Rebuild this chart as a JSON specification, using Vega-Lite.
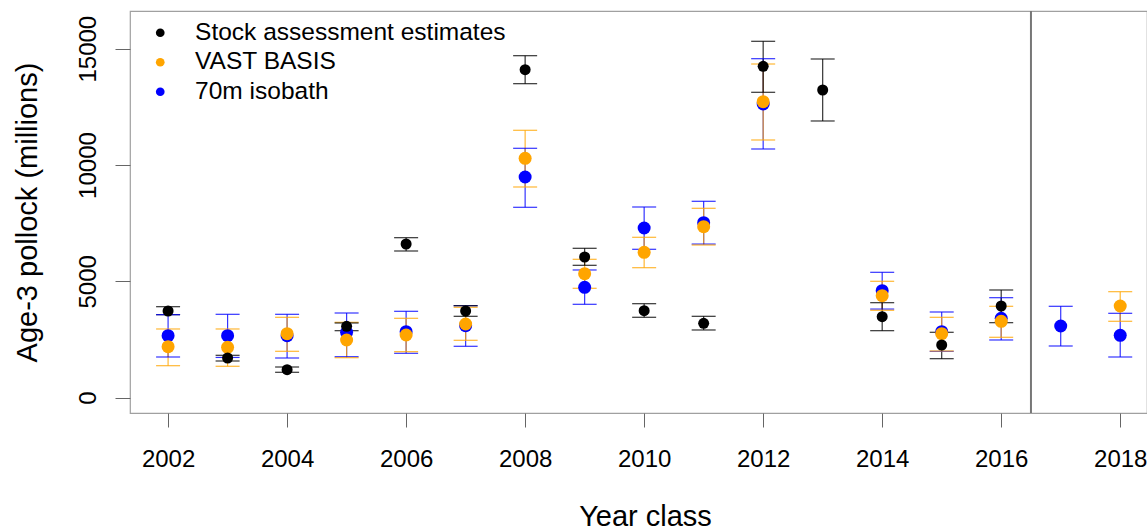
{
  "$schema": "https://vega.github.io/schema/vega-lite/v6.json",
  "width": 1017,
  "height": 402,
  "autosize": {"type": "none"},
  "padding": {"left": 130, "top": 11, "right": 0, "bottom": 116},
  "background": "white",
  "config": {
    "font": "Liberation Sans",
    "view": {"stroke": "#a0a0a0", "strokeWidth": 1.2},
    "axis": {"grid": false, "domain": false, "tickColor": "#666666", "tickWidth": 1, "labelColor": "#000000", "titleColor": "#000000", "labelFont": "Liberation Sans", "titleFont": "Liberation Sans", "titleFontWeight": "normal", "labelOverlap": false, "labelFlush": false, "labelBound": false}
  },
  "datasets": {
    "divider": [{"year": 2016.5}],
    "recruits": [
      {"year": 2002, "series": "70m isobath", "est": 2665, "lo": 1749, "hi": 3568},
      {"year": 2003, "series": "70m isobath", "est": 2665, "lo": 1730, "hi": 3584},
      {"year": 2004, "series": "70m isobath", "est": 2665, "lo": 1706, "hi": 3584},
      {"year": 2005, "series": "70m isobath", "est": 2811, "lo": 1762, "hi": 3640},
      {"year": 2006, "series": "70m isobath", "est": 2837, "lo": 1908, "hi": 3713},
      {"year": 2007, "series": "70m isobath", "est": 3095, "lo": 2209, "hi": 3954},
      {"year": 2008, "series": "70m isobath", "est": 9486, "lo": 8183, "hi": 10719},
      {"year": 2009, "series": "70m isobath", "est": 4745, "lo": 4014, "hi": 5489},
      {"year": 2010, "series": "70m isobath", "est": 7294, "lo": 6378, "hi": 8196},
      {"year": 2011, "series": "70m isobath", "est": 7522, "lo": 6603, "hi": 8441},
      {"year": 2012, "series": "70m isobath", "est": 12623, "lo": 10689, "hi": 14570},
      {"year": 2014, "series": "70m isobath", "est": 4599, "lo": 3809, "hi": 5389},
      {"year": 2015, "series": "70m isobath", "est": 2837, "lo": 1991, "hi": 3683},
      {"year": 2016, "series": "70m isobath", "est": 3413, "lo": 2480, "hi": 4298},
      {"year": 2017, "series": "70m isobath", "est": 3082, "lo": 2222, "hi": 3928},
      {"year": 2018, "series": "70m isobath", "est": 2682, "lo": 1749, "hi": 3627},
      {"year": 2002, "series": "VAST BASIS", "est": 2192, "lo": 1375, "hi": 2953},
      {"year": 2003, "series": "VAST BASIS", "est": 2166, "lo": 1350, "hi": 2953},
      {"year": 2004, "series": "VAST BASIS", "est": 2751, "lo": 1994, "hi": 3455},
      {"year": 2005, "series": "VAST BASIS", "est": 2480, "lo": 1719, "hi": 3240},
      {"year": 2006, "series": "VAST BASIS", "est": 2695, "lo": 1978, "hi": 3412},
      {"year": 2007, "series": "VAST BASIS", "est": 3168, "lo": 2467, "hi": 3885},
      {"year": 2008, "series": "VAST BASIS", "est": 10289, "lo": 9056, "hi": 11493},
      {"year": 2009, "series": "VAST BASIS", "est": 5330, "lo": 4702, "hi": 5948},
      {"year": 2010, "series": "VAST BASIS", "est": 6249, "lo": 5587, "hi": 6894},
      {"year": 2011, "series": "VAST BASIS", "est": 7350, "lo": 6563, "hi": 8140},
      {"year": 2012, "series": "VAST BASIS", "est": 12722, "lo": 11076, "hi": 14342},
      {"year": 2014, "series": "VAST BASIS", "est": 4384, "lo": 3756, "hi": 5003},
      {"year": 2015, "series": "VAST BASIS", "est": 2751, "lo": 2007, "hi": 3455},
      {"year": 2016, "series": "VAST BASIS", "est": 3284, "lo": 2596, "hi": 3928},
      {"year": 2018, "series": "VAST BASIS", "est": 3941, "lo": 3284, "hi": 4556},
      {"year": 2002, "series": "Stock assessment estimates", "est": 3726, "lo": 3568, "hi": 3911},
      {"year": 2003, "series": "Stock assessment estimates", "est": 1706, "lo": 1577, "hi": 1822},
      {"year": 2004, "series": "Stock assessment estimates", "est": 1204, "lo": 1092, "hi": 1319},
      {"year": 2005, "series": "Stock assessment estimates", "est": 3069, "lo": 2880, "hi": 3211},
      {"year": 2006, "series": "Stock assessment estimates", "est": 6606, "lo": 6305, "hi": 6877},
      {"year": 2007, "series": "Stock assessment estimates", "est": 3726, "lo": 3498, "hi": 3954},
      {"year": 2008, "series": "Stock assessment estimates", "est": 14097, "lo": 13496, "hi": 14699},
      {"year": 2009, "series": "Stock assessment estimates", "est": 6047, "lo": 5690, "hi": 6421},
      {"year": 2010, "series": "Stock assessment estimates", "est": 3739, "lo": 3456, "hi": 4040},
      {"year": 2011, "series": "Stock assessment estimates", "est": 3198, "lo": 2910, "hi": 3498},
      {"year": 2012, "series": "Stock assessment estimates", "est": 14243, "lo": 13126, "hi": 15318},
      {"year": 2013, "series": "Stock assessment estimates", "est": 13225, "lo": 11893, "hi": 14557},
      {"year": 2014, "series": "Stock assessment estimates", "est": 3481, "lo": 2880, "hi": 4083},
      {"year": 2015, "series": "Stock assessment estimates", "est": 2265, "lo": 1676, "hi": 2811},
      {"year": 2016, "series": "Stock assessment estimates", "est": 3941, "lo": 3224, "hi": 4629}
    ]
  },
  "layer": [
    {
      "data": {"name": "divider"},
      "mark": {"type": "rule", "color": "#777777", "strokeWidth": 2},
      "encoding": {
        "x": {
          "field": "year", "type": "quantitative",
          "scale": {"domain": [2001.36, 2018.45], "nice": false, "zero": false},
          "axis": {
            "values": [2002, 2004, 2006, 2008, 2010, 2012, 2014, 2016, 2018],
            "format": "d", "labelFontSize": 24, "tickSize": 14, "labelPadding": 39,
            "labelBaseline": "alphabetic", "labelAlign": "center",
            "title": "Year class", "titleFontSize": 29, "titleX": 515, "titleY": 112,
            "titleAlign": "center", "titleBaseline": "alphabetic"
          }
        }
      }
    },
    {
      "data": {"name": "recruits"},
      "mark": {"type": "rule", "strokeWidth": 1.2, "opacity": 0.8},
      "encoding": {
        "x": {"field": "year", "type": "quantitative"},
        "y": {
          "field": "lo", "type": "quantitative",
          "scale": {"domain": [-658, 16620], "nice": false, "zero": false},
          "axis": {
            "values": [0, 5000, 10000, 15000], "format": "d", "labelFontSize": 24,
            "labelAngle": 270, "labelAlign": "center", "labelBaseline": "alphabetic",
            "tickSize": 15, "labelPadding": 20,
            "title": "Age-3 pollock (millions)", "titleFontSize": 29, "titleAngle": 270,
            "titleX": -93.5, "titleY": 201, "titleAlign": "center", "titleBaseline": "alphabetic"
          }
        },
        "y2": {"field": "hi"},
        "color": {"field": "series", "type": "nominal"}
      }
    },
    {
      "data": {"name": "recruits"},
      "mark": {"type": "tick", "orient": "horizontal", "size": 24, "thickness": 1.2, "opacity": 0.8},
      "encoding": {
        "x": {"field": "year", "type": "quantitative"},
        "y": {"field": "lo", "type": "quantitative"},
        "color": {"field": "series", "type": "nominal"}
      }
    },
    {
      "data": {"name": "recruits"},
      "mark": {"type": "tick", "orient": "horizontal", "size": 24, "thickness": 1.2, "opacity": 0.8},
      "encoding": {
        "x": {"field": "year", "type": "quantitative"},
        "y": {"field": "hi", "type": "quantitative"},
        "color": {"field": "series", "type": "nominal"}
      }
    },
    {
      "data": {"name": "recruits"},
      "transform": [{"filter": "datum.series !== 'Stock assessment estimates'"}],
      "mark": {"type": "point", "filled": true, "opacity": 1, "strokeWidth": 0, "size": 169},
      "encoding": {
        "x": {"field": "year", "type": "quantitative"},
        "y": {"field": "est", "type": "quantitative"},
        "color": {"field": "series", "type": "nominal"}
      }
    },
    {
      "data": {"name": "recruits"},
      "transform": [{"filter": "datum.series === 'Stock assessment estimates'"}],
      "mark": {"type": "point", "filled": true, "opacity": 1, "strokeWidth": 0, "size": 121},
      "encoding": {
        "x": {"field": "year", "type": "quantitative"},
        "y": {"field": "est", "type": "quantitative"},
        "color": {
          "field": "series", "type": "nominal",
          "scale": {
            "domain": ["Stock assessment estimates", "VAST BASIS", "70m isobath"],
            "range": ["#000000", "#FFA500", "#0000FF"]
          },
          "legend": {
            "orient": "none", "legendX": 18, "legendY": 9.5, "title": null, "padding": 0,
            "labelFontSize": 24.5, "labelFont": "Liberation Sans", "labelColor": "#000000", "labelLimit": 0,
            "symbolType": "circle", "symbolSize": 76, "symbolStrokeWidth": 0, "symbolOpacity": 1,
            "rowPadding": 4.5, "labelOffset": 22.6,
            "encode": {"symbols": {"update": {"opacity": {"value": 1}, "fillOpacity": {"value": 1}, "strokeOpacity": {"value": 0}}}}
          }
        }
      }
    }
  ]
}
